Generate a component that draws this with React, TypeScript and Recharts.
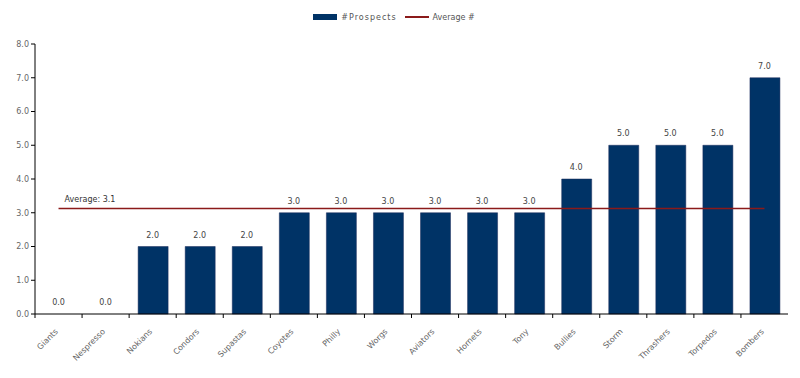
import { ComposedChart, Bar, Line, XAxis, YAxis, Legend, LabelList } from "recharts"

const teams = ["Giants", "Nespresso", "Nokians", "Condors", "Supastas", "Coyotes", "Philly", "Worgs", "Aviators", "Hornets", "Tony", "Bullies", "Storm", "Thrashers", "Torpedos", "Bombers"]
const prospects = [0, 0, 2, 2, 2, 3, 3, 3, 3, 3, 3, 4, 5, 5, 5, 7]
const average = 3.125
const yTicks = [0, 1, 2, 3, 4, 5, 6, 7, 8]

const data = teams.map((team, i) => ({ team, prospects: prospects[i], avg: average }))

const font = "Tahoma, 'DejaVu Sans', sans-serif"
const HALF_BAND = (800 - 35 - 12) / teams.length / 2

function XTick({ x, y, payload }: any) {
  return (
    <g>
      <line x1={x - HALF_BAND} x2={x - HALF_BAND} y1={y - 8} y2={y - 4} stroke="#000" />
      <text x={x} y={y + 10} transform={`rotate(-45, ${x}, ${y + 10})`} textAnchor="end" fontSize={8} fill="#666" fontFamily={font}>
        {payload.value}
      </text>
    </g>
  )
}

function LegendBox() {
  return (
    <div style={{ display: "flex", justifyContent: "center", alignItems: "center", fontSize: 8, color: "#555", fontFamily: font, gap: 4, height: 10 }}>
      <span style={{ display: "inline-block", width: 24, height: 6, background: "#003366" }} />
      <span style={{ letterSpacing: 1 }}>#Prospects</span>
      <span style={{ display: "inline-block", width: 24, height: 1.5, background: "#8b1a1a", marginLeft: 4 }} />
      <span>Average #</span>
    </div>
  )
}

export default function App() {
  return (
    <div style={{ position: "absolute", left: 0, top: 0, background: "#fff" }}>
      <ComposedChart width={800} height={378} data={data} margin={{ top: 34, right: 12, bottom: 34, left: 0 }}>
        <Legend verticalAlign="top" content={<LegendBox />} wrapperStyle={{ top: 12 }} />
        <XAxis dataKey="team" height={30} interval={0} tick={<XTick />} tickLine={false} axisLine={{ stroke: "#000" }} />
        <YAxis
          width={35}
          domain={[0, 8]}
          ticks={yTicks}
          tickFormatter={(v: number) => v.toFixed(1)}
          tick={{ fill: "#666", fontSize: 8, fontFamily: font }}
          tickSize={4}
          tickLine={{ stroke: "#000" }}
          axisLine={{ stroke: "#000" }}
        />
        <Bar dataKey="prospects" name="#Prospects" fill="#003366" stroke="#1a2a5a" strokeWidth={0.5} barSize={30} isAnimationActive={false} />
        <Line dataKey="prospects" stroke="none" dot={false} activeDot={false} legendType="none" isAnimationActive={false}>
          <LabelList dataKey="prospects" position="top" offset={9} formatter={(v: number) => v.toFixed(1)} style={{ fontSize: 8, fill: "#444", fontFamily: font }} />
        </Line>
        <Line
          dataKey="avg"
          name="Average #"
          stroke="#8b1a1a"
          strokeWidth={1.5}
          dot={false}
          isAnimationActive={false}
          label={({ x, y, index }: any) =>
            index === 0 ? (
              <text x={x + 6} y={y - 7} fontSize={8} fill="#333" fontFamily={font}>
                Average: {average.toFixed(1)}
              </text>
            ) : null
          }
        />
      </ComposedChart>
    </div>
  )
}
